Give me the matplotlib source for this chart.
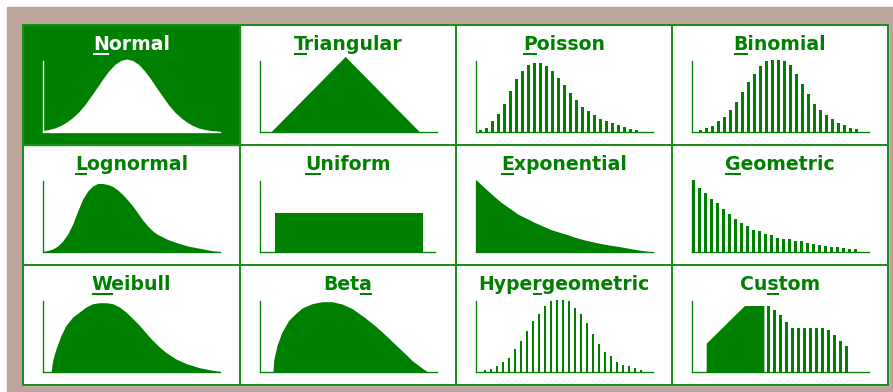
import matplotlib
matplotlib.use("Agg")
import matplotlib.pyplot as plt
from matplotlib.patches import Rectangle
from matplotlib.font_manager import FontProperties

# ---------------- data ----------------
titles = ["Normal", "Triangular", "Poisson", "Binomial",
          "Lognormal", "Uniform", "Exponential", "Geometric",
          "Weibull", "Beta", "Hypergeometric", "Custom"]
underline_idx = [0, 0, 0, 0, 0, 0, 0, 0, 0, 3, 4, 2]

# continuous curves: x along axis (0..177), height (0..80)
normal_x = [0, 6, 12, 18, 24, 30, 36, 42, 48, 54, 60, 66, 72, 78, 84, 90, 96,
            102, 108, 114, 120, 126, 132, 138, 144, 150, 156, 162, 168, 174, 177]
normal_y = [1.5, 2.5, 4, 6.5, 10, 14.5, 20, 27, 35.5, 44, 53, 61, 67.5, 71.5, 73,
            71.5, 67.5, 61, 53, 44, 35.5, 27, 20, 14.5, 10, 6.5, 4, 2.5, 1.5, 1, 0.5]

tri_x = [12, 86, 160]
tri_y = [0, 75, 0]

logn_x = [0, 5, 10, 15, 20, 25, 30, 35, 40, 45, 50, 55, 60, 65, 70, 75, 80, 85,
          90, 95, 100, 105, 110, 115, 125, 135, 145, 157, 170, 177]
logn_y = [0.5, 1.5, 3, 6, 11, 18, 28, 41, 53, 61, 66, 68.5, 68.5, 67.5, 65.5, 62,
          57.5, 52, 46, 39, 32, 26, 21, 17.5, 12.5, 9, 6, 3.7, 1.2, 0.5]

uni_x = [15.7, 163.4]
uni_h = 38.7

exp_x = [0, 8, 18, 25, 35, 42, 50, 58, 67, 75, 83, 92, 100, 108, 117, 125, 133,
         142, 150, 158, 165, 177]
exp_y = [72.5, 65, 56, 50, 43, 38, 34, 30, 26, 22.5, 20, 17.3, 14.5, 12.3, 10.2,
         8.5, 7, 5.7, 4.3, 2.8, 1.7, 0]

weib_x = [0, 8.3, 10, 13.3, 18.3, 23.3, 30, 36.7, 43.3, 50, 56.7, 63.3, 70, 76.7,
          83.3, 90, 96.7, 103.3, 110, 116.7, 123.3, 133.3, 143.3, 156.7, 170, 177]
weib_y = [0, 0, 11.7, 23.3, 36.7, 46.7, 55, 60, 65, 68.3, 69.3, 69.3, 68.3, 65,
          60, 53.5, 46.7, 39, 31.5, 25, 19.5, 13, 8.5, 4.3, 1.7, 0.7]

beta_x = [0, 13.3, 14, 17.3, 22.3, 29, 35.7, 42.3, 52.3, 62.3, 72.3, 82.3, 92.3,
          105.7, 115.7, 125.7, 135.7, 145.7, 152.3, 162.3, 167.3, 177]
beta_y = [0, 0, 11.7, 26.7, 40, 51.7, 58.3, 64, 68.3, 70.3, 70.3, 68, 63.5,
          54, 46, 37, 27.5, 18, 11.5, 4, 0.5, 0]

cust_x = [15, 15, 53.3, 72.7, 72.7]
cust_y = [0, 28.3, 66, 66, 0]
cust_bar_x = [76.7, 82.7, 88.7, 94.7, 100.7, 106.7, 112.7, 118.7, 124.7, 130.7,
              136.7, 142.7, 148.7, 154.7]
cust_bar_y = [66, 62.3, 56.7, 50, 44, 44, 44, 44, 44, 44, 42.3, 36.7, 30.7, 26.3]

# discrete bars (one bar per outcome)
poisson = [2, 4, 11, 18, 28, 41, 53, 61, 67, 69, 69, 66, 61, 54, 47, 39, 32, 25,
           21, 17, 13, 11, 9, 7, 5, 3, 2]
binomial = [2, 4, 6, 11, 15, 22, 30, 40, 50, 58, 66, 71, 72, 72, 71, 67, 58, 48,
            38, 28, 22, 17, 13, 9, 7, 4, 3]
geometric = [72.3, 64.3, 59, 52.7, 48.7, 42.7, 37.7, 32.7, 28.7, 25.7, 22.3, 20.7,
             18.3, 16.7, 14.3, 12.7, 12.7, 11, 10.7, 8.7, 8, 6.7, 6.3, 4.7, 4.7,
             4.3, 2.7, 2.7]
hypergeo = [1.7, 3.3, 6, 10, 14, 22.7, 30.7, 40.7, 50.7, 58.3, 65.7, 70.7, 72.3,
            72.3, 70.7, 64, 58.3, 49, 38.3, 28.3, 20, 16, 10, 6.7, 6, 4, 2.3]

# ---------------- layout ----------------
W, H, DPI = 893, 392, 100
GREEN = "#008000"
LINE_GREEN = "#1f8c1f"
TAUPE = "#BCA49C"
col_x = [23, 240, 456, 672, 888]
row_y = [25, 145, 265, 385]
AX_W = 177.0
AX_H = 80.0
AXIS_TOP = 71
PX = 72.0 / DPI  # points per pixel

fig = plt.figure(figsize=(W / DPI, H / DPI), dpi=DPI)
bg = fig.add_axes([0, 0, 1, 1])
bg.set_xlim(0, W)
bg.set_ylim(H, 0)
bg.axis("off")
bg.add_patch(Rectangle((0, 0), W, H, color="white", zorder=0))
bg.add_patch(Rectangle((7, 7), W - 7, H - 7, color=TAUPE, zorder=0))
bg.add_patch(Rectangle((col_x[0], row_y[0]), col_x[-1] - col_x[0],
                       row_y[-1] - row_y[0], color="white", zorder=0))
bg.add_patch(Rectangle((col_x[0], row_y[0]), col_x[1] - col_x[0],
                       row_y[1] - row_y[0], color=GREEN, zorder=0.5))
for x in col_x:
    bg.plot([x, x], [row_y[0], row_y[-1]], color=LINE_GREEN, lw=2 * PX,
            solid_capstyle="projecting", zorder=1)
for y in row_y:
    bg.plot([col_x[0], col_x[-1]], [y, y], color=LINE_GREEN, lw=2 * PX,
            solid_capstyle="projecting", zorder=1)

fp = FontProperties(family="DejaVu Sans", weight="bold", size=13.6)
fig.canvas.draw()
renderer = fig.canvas.get_renderer()


def text_w(s):
    if not s:
        return 0.0
    w, h, d = renderer.get_text_width_height_descent(s, fp, ismath=False)
    return w


def panel(i, xlim):
    r, c = divmod(i, 4)
    left = col_x[c] + 19.7
    base = row_y[r] + 107
    ax = fig.add_axes([left / W, (H - base) / H, AX_W / W, AX_H / H])
    ax.set_xlim(*xlim)
    ax.set_ylim(0, AX_H)
    ax.axis("off")
    ax.patch.set_alpha(0)
    return ax


def axis_lines(ax, x0, x1, color):
    ax.plot([x0, x0], [0, AXIS_TOP], color=color, lw=1.3 * PX, clip_on=False, zorder=3)
    ax.plot([x0, x1], [0, 0], color=color, lw=1.3 * PX, clip_on=False, zorder=3)


def bar_xlim(first):
    return (-first / 6.0, (AX_W - first) / 6.0)


# titles
for i, t in enumerate(titles):
    r, c = divmod(i, 4)
    cx = (col_x[c] + col_x[c + 1]) / 2.0
    by = row_y[r] + 25
    color = "white" if i == 0 else GREEN
    bg.text(cx, by, t, ha="center", va="baseline", fontproperties=fp,
            color=color, zorder=4)
    tw = text_w(t)
    k = underline_idx[i]
    ux0 = cx - tw / 2 + text_w(t[:k])
    ux1 = cx - tw / 2 + text_w(t[:k + 1])
    bg.plot([ux0, ux1], [by + 3.5, by + 3.5], color=color, lw=2 * PX, zorder=4,
            solid_capstyle="butt")

# 0 Normal
ax = panel(0, (0, AX_W))
ax.fill_between(normal_x, normal_y, 0, color="white", lw=0)
axis_lines(ax, 0, AX_W, "white")

# 1 Triangular
ax = panel(1, (0, AX_W))
ax.fill(tri_x, tri_y, color=GREEN, lw=0, clip_on=False)
axis_lines(ax, 0, AX_W, GREEN)

# 2 Poisson
ax = panel(2, bar_xlim(5))
ax.bar(range(len(poisson)), poisson, width=0.45, color=GREEN, lw=0)
axis_lines(ax, bar_xlim(5)[0], bar_xlim(5)[1], GREEN)

# 3 Binomial
ax = panel(3, bar_xlim(9))
ax.bar(range(len(binomial)), binomial, width=0.45, color=GREEN, lw=0)
axis_lines(ax, bar_xlim(9)[0], bar_xlim(9)[1], GREEN)

# 4 Lognormal
ax = panel(4, (0, AX_W))
ax.fill_between(logn_x, logn_y, 0, color=GREEN, lw=0)
axis_lines(ax, 0, AX_W, GREEN)

# 5 Uniform
ax = panel(5, (0, AX_W))
ax.fill_between(uni_x, [uni_h, uni_h], 0, color=GREEN, lw=0)
axis_lines(ax, 0, 175, GREEN)

# 6 Exponential
ax = panel(6, (0, AX_W))
ax.fill_between(exp_x, exp_y, 0, color=GREEN, lw=0)
axis_lines(ax, 0, AX_W, GREEN)

# 7 Geometric
ax = panel(7, bar_xlim(1.5))
ax.bar(range(len(geometric)), geometric, width=0.55, color=GREEN, lw=0)
axis_lines(ax, bar_xlim(1.5)[0], bar_xlim(1.5)[1], GREEN)

# 8 Weibull
ax = panel(8, (0, AX_W))
ax.fill_between(weib_x, weib_y, 0, color=GREEN, lw=0)
axis_lines(ax, 0, AX_W, GREEN)

# 9 Beta
ax = panel(9, (0, AX_W))
ax.fill_between(beta_x, beta_y, 0, color=GREEN, lw=0)
axis_lines(ax, 0, AX_W, GREEN)

# 10 Hypergeometric
ax = panel(10, bar_xlim(9.3))
ax.bar(range(len(hypergeo)), hypergeo, width=0.45, color=GREEN, lw=0)
axis_lines(ax, bar_xlim(9.3)[0], bar_xlim(9.3)[1], GREEN)

# 11 Custom
ax = panel(11, (0, AX_W))
ax.fill(cust_x, cust_y, color=GREEN, lw=0)
ax.bar(cust_bar_x, cust_bar_y, width=3.8, color=GREEN, lw=0)
axis_lines(ax, 0, AX_W, GREEN)

fig.savefig("out.png", dpi=DPI)
